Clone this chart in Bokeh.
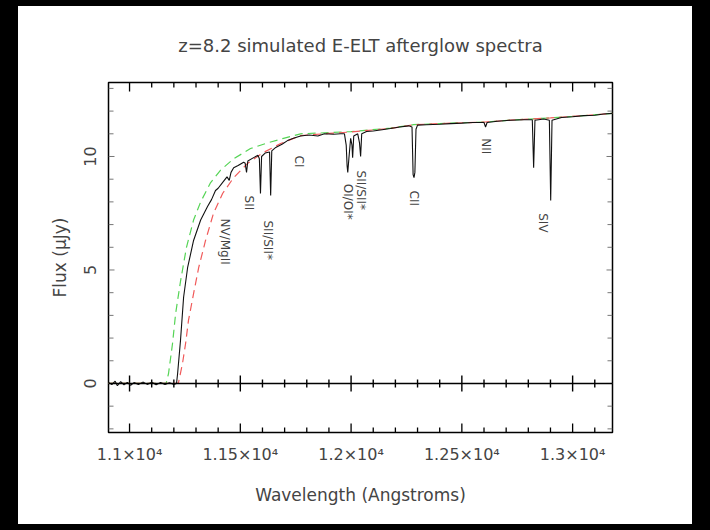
import math
from bokeh.plotting import figure
from bokeh.models import (LinearAxis, SingleIntervalTicker, CustomJSTickFormatter,
                          Range1d, Spacer)
from bokeh.layouts import column, row
from bokeh.core.properties import value
from bokeh.embed import file_html
from bokeh.resources import INLINE

# ---- data ----
obs_wl = [10905, 10920, 10935, 10945, 10960, 10975, 10990, 11005, 11020, 11040,
          11060, 11080, 11100, 11120, 11140, 11160, 11180, 11200, 11212, 11217,
          11230, 11244, 11262, 11289, 11321, 11352, 11370, 11388, 11400, 11424,
          11440, 11450, 11458, 11470, 11490, 11515, 11522, 11528, 11534, 11560,
          11580, 11586, 11591, 11596, 11612, 11632, 11637, 11642, 11660, 11690,
          11713, 11740, 11772, 11810, 11850, 11880, 11920, 11953, 11970, 11978,
          11982, 11985, 11990, 11998, 12004, 12007, 12012, 12030, 12038, 12043,
          12048, 12070, 12100, 12140, 12178, 12220, 12260, 12275, 12280, 12284,
          12288, 12293, 12300, 12340, 12400, 12450, 12500, 12550, 12600, 12607,
          12614, 12660, 12720, 12780, 12818, 12824, 12830, 12870, 12895, 12901,
          12907, 12950, 13000, 13050, 13100, 13140, 13180]
obs_flux = [0.05, -0.05, 0.10, -0.10, 0.08, -0.06, 0.05, -0.08, 0.04, -0.05,
            0.06, -0.04, 0.05, -0.06, 0.04, -0.05, 0.03, -0.04, 0.00, 0.44,
            1.9, 3.8, 5.1, 6.3, 7.2, 7.8, 8.1, 8.5, 8.6, 8.9,
            9.1, 8.95, 9.3, 9.5, 9.6, 9.75, 9.7, 9.3, 9.8, 9.95,
            10.05, 9.9, 8.37, 10.0, 10.15, 10.2, 8.28, 10.25, 10.4, 10.55,
            10.7, 10.8, 10.9, 10.95, 10.9, 11.0, 10.98, 11.0, 11.0, 10.5,
            9.6, 9.3, 9.9, 10.8, 10.5, 9.95, 10.9, 11.0, 10.6, 10.0,
            11.0, 11.1, 11.12, 11.18, 11.23, 11.3, 11.35, 11.3, 9.2, 9.07,
            9.3, 11.2, 11.38, 11.4, 11.42, 11.45, 11.47, 11.5, 11.5, 11.3,
            11.5, 11.55, 11.6, 11.62, 11.62, 9.5, 11.6, 11.65, 11.6, 8.06,
            11.6, 11.72, 11.75, 11.8, 11.82, 11.87, 11.9]

green_wl = [10905, 11165, 11176, 11194, 11208, 11230, 11257, 11289, 11321, 11366, 11411,
            11470, 11546, 11623, 11695, 11772, 11900, 12000, 12178, 12282, 12400,
            12607, 12720, 12900, 13050, 13180]
green_flux = [0.0, 0.0, 0.44, 1.76, 3.08, 4.5, 6.0, 7.2, 8.0, 8.85, 9.4,
              9.9, 10.35, 10.6, 10.8, 11.0, 11.05, 11.1, 11.25, 11.4, 11.45,
              11.52, 11.6, 11.7, 11.8, 11.9]

red_wl = [10905, 11215, 11221, 11239, 11253, 11266, 11289, 11312, 11343, 11379, 11420,
          11470, 11533, 11605, 11682, 11772, 11900, 12000, 12178, 12282, 12400,
          12607, 12720, 12900, 13050, 13180]
red_flux = [0.0, 0.0, 0.04, 0.88, 1.76, 2.78, 3.96, 5.1, 6.3, 7.5, 8.37,
            9.07, 9.7, 10.18, 10.57, 10.92, 11.02, 11.08, 11.24, 11.4, 11.45,
            11.52, 11.6, 11.7, 11.8, 11.9]

line_labels = ["NV/MgII", "SII", "SII/SII*", "CI", "OI/OI*", "SII/SII*", "CII", "NII", "SIV"]
label_wl = [11433, 11537, 11623, 11763, 11984, 12043, 12282, 12607, 12865]
label_top = [7.27, 8.28, 7.18, 10.04, 8.8, 9.38, 8.5, 10.8, 7.5]

# axis limits and tick positions
x_lo, x_hi = 10905, 13180
y_lo, y_hi = -2.16, 13.26
x_major = [11000, 11500, 12000, 12500, 13000]
x_minor = [w for w in range(11000, 13200, 100) if w not in x_major]
y_major = [0, 5, 10]
y_minor = [v for v in range(-2, 14) if v not in y_major]

title_text = "z=8.2 simulated E-ELT afterglow spectra"
x_label = "Wavelength (Angstroms)"
y_label = "Flux (\u03bcJy)"

FONT = "DejaVu Sans"
TXT = "#444444"

W, H = 674, 518
BL, BR, BT, BB = 90, 80, 76, 92

p = figure(width=W, height=H,
           x_range=Range1d(x_lo, x_hi), y_range=Range1d(y_lo, y_hi),
           output_backend="svg", toolbar_location=None,
           min_border_left=BL, min_border_right=BR,
           min_border_top=10, min_border_bottom=BB)
p.background_fill_color = "white"
p.border_fill_color = "white"
p.outline_line_color = "black"
p.outline_line_width = 1.5
p.xgrid.visible = False
p.ygrid.visible = False

p.title.text = title_text
p.title.align = "center"
p.title.text_font = FONT
p.title.text_font_size = "18px"
p.title.text_font_style = "normal"
p.title.text_color = TXT
p.title.standoff = 52


def noticks(ax):
    ax.axis_line_color = None
    ax.major_tick_line_color = None
    ax.minor_tick_line_color = None
    ax.major_tick_in = 0
    ax.major_tick_out = 1
    ax.minor_tick_in = 0
    ax.minor_tick_out = 1


# bottom axis (labels)
xb = p.xaxis[0]
xb.ticker = SingleIntervalTicker(interval=500, num_minor_ticks=5)
xb.formatter = CustomJSTickFormatter(code="return (tick/10000).toString() + '\u00d710\u2074';")
xb.axis_label = x_label
noticks(xb)
xb.major_label_text_font = FONT
xb.major_label_text_font_size = "16px"
xb.major_label_text_color = TXT
xb.major_label_standoff = 11
xb.axis_label_text_font = FONT
xb.axis_label_text_font_size = "17px"
xb.axis_label_text_font_style = "normal"
xb.axis_label_text_color = TXT
xb.axis_label_standoff = 18

# left axis (labels)
yl = p.yaxis[0]
yl.ticker = SingleIntervalTicker(interval=5, num_minor_ticks=5)
yl.axis_label = y_label
noticks(yl)
yl.major_label_orientation = "vertical"
yl.major_label_text_font = FONT
yl.major_label_text_font_size = "16px"
yl.major_label_text_color = TXT
yl.major_label_standoff = 11
yl.axis_label_text_font = FONT
yl.axis_label_text_font_size = "17px"
yl.axis_label_text_font_style = "normal"
yl.axis_label_text_color = TXT
yl.axis_label_standoff = 12

# line along zero flux
xm = LinearAxis(ticker=SingleIntervalTicker(interval=500, num_minor_ticks=5),
                fixed_location=0)
noticks(xm)
xm.axis_line_color = "black"
xm.axis_line_width = 1.5
xm.major_label_text_font_size = "0px"
xm.major_label_text_alpha = 0
xm.major_label_standoff = 0
p.add_layout(xm, "below")

# top axis (spacing only)
xa = LinearAxis(ticker=SingleIntervalTicker(interval=500, num_minor_ticks=5))
noticks(xa)
xa.major_label_text_font_size = "0px"
xa.major_label_text_alpha = 0
xa.major_label_standoff = 0
p.add_layout(xa, "above")

# ---- tick marks drawn as segments (lengths converted from pixels) ----
frame_w = W - BL - BR
frame_h = H - BT - BB
px_x = (x_hi - x_lo) / frame_w      # data units per pixel, x
px_y = (y_hi - y_lo) / frame_h      # data units per pixel, y


def vticks(xs, y0, y1, width):
    p.segment(x0=xs, y0=[y0] * len(xs), x1=xs, y1=[y1] * len(xs),
              line_color="black", line_width=width)


vticks(x_major, y_hi, y_hi - 9 * px_y, 1.3)
vticks(x_minor, y_hi, y_hi - 5 * px_y, 1.3)
vticks(x_major, y_lo, y_lo + 9 * px_y, 1.3)
vticks(x_minor, y_lo, y_lo + 5 * px_y, 1.3)
vticks(x_major, -8 * px_y, 8 * px_y, 1.4)
vticks(x_minor, -4 * px_y, 4 * px_y, 1.4)


def hticks(ys, x0, x1):
    p.segment(x0=[x0] * len(ys), y0=ys, x1=[x1] * len(ys), y1=ys,
              line_color="#777777", line_width=1)


hticks(y_major, x_lo, x_lo + 6 * px_x)
hticks(y_minor, x_lo, x_lo + 5 * px_x)
hticks(y_major, x_hi, x_hi - 6 * px_x)
hticks(y_minor, x_hi, x_hi - 5 * px_x)

# ---- data ----
p.line(green_wl, green_flux, line_color="#55d455", line_width=1.2, line_dash="8 5")
p.line(red_wl, red_flux, line_color="#f05a5a", line_width=1.2, line_dash="8 5")
p.line(obs_wl, obs_flux, line_color="#111111", line_width=1.1)

p.text(x=label_wl, y=label_top, text=line_labels, angle=-math.pi / 2,
       text_align="left", text_baseline="middle",
       text_font=value(FONT), text_font_size=value("12px"), text_color=TXT)

bg = {"background-color": "black"}
layout = column(
    Spacer(width=710, height=6, styles=bg),
    row(Spacer(width=18, height=H, styles=bg), p, Spacer(width=18, height=H, styles=bg)),
    Spacer(width=710, height=6, styles=bg),
)

open("out.html", "w").write(file_html(layout, INLINE))
